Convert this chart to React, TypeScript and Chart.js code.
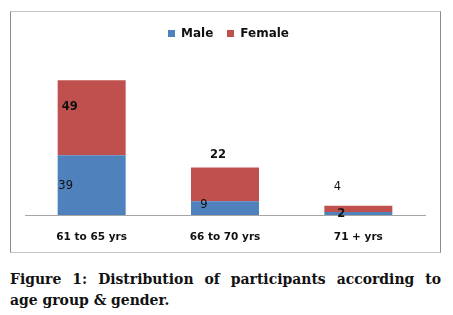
import React, { useEffect, useRef } from "react";
import { Chart, registerables } from "chart.js";

Chart.register(...registerables);

// ---- data ----
const categories = ["61 to 65 yrs", "66 to 70 yrs", "71 + yrs"];
const seriesNames = ["Male", "Female"];
const maleValues = [39, 9, 2];
const femaleValues = [49, 22, 4];
const seriesColors = ["#4F81BD", "#C0504D"];
const captionLine1 = "Figure 1: Distribution of participants according to";
const captionLine2 = "age group & gender.";

// label placement (offsets from each segment's centre) and weight, per series/category
const labelOffsets = [
  [[-26, 0.5, false], [-21, -3.5, false], [-17, 0.5, true]],
  [[-22, -10.5, true], [-7, -29, true], [-21, -21.5, false]],
];

const FONT = '"DejaVu Sans", Verdana, sans-serif';

const dataLabelPlugin = {
  id: "segLabels",
  afterDatasetsDraw(chart: any) {
    const ctx = chart.ctx;
    ctx.save();
    ctx.textAlign = "center";
    ctx.textBaseline = "middle";
    ctx.fillStyle = "#111";
    chart.data.datasets.forEach((ds: any, di: number) => {
      const meta = chart.getDatasetMeta(di);
      meta.data.forEach((el: any, i: number) => {
        const { x, y, base } = el.getProps(["x", "y", "base"], true);
        const [dx, dy, bold] = labelOffsets[di][i] as [number, number, boolean];
        ctx.font = `${bold ? "bold " : ""}11.5px ${FONT}`;
        ctx.fillText(String(ds.data[i]), x + dx, (y + base) / 2 + dy);
      });
    });
    ctx.restore();
  },
};

const legendPlugin = {
  id: "topLegend",
  afterDraw(chart: any) {
    const ctx = chart.ctx;
    ctx.save();
    ctx.font = `bold 12px ${FONT}`;
    ctx.textBaseline = "middle";
    ctx.textAlign = "left";
    const box = 7;
    const gap = 6;
    const itemGap = 14;
    const items = chart.data.datasets.map((ds: any) => ({
      text: ds.label,
      color: ds.backgroundColor,
      w: ctx.measureText(ds.label).width,
    }));
    let total = 0;
    items.forEach((it: any, i: number) => {
      total += box + gap + it.w + (i > 0 ? itemGap : 0);
    });
    let x = chart.width / 2 + 3 - total / 2;
    const cy = 21.5;
    items.forEach((it: any) => {
      ctx.fillStyle = it.color;
      ctx.fillRect(Math.round(x), Math.round(cy - box / 2), box, box);
      ctx.fillStyle = "#111";
      ctx.fillText(it.text, x + box + gap, cy + 0.5);
      x += box + gap + it.w + itemGap;
    });
    ctx.restore();
  },
};

export default function App() {
  const ref = useRef<HTMLCanvasElement | null>(null);

  useEffect(() => {
    if (!ref.current) return;
    const chart = new Chart(ref.current, {
      type: "bar",
      data: {
        labels: categories,
        datasets: [
          { label: seriesNames[0], data: maleValues, backgroundColor: seriesColors[0] },
          { label: seriesNames[1], data: femaleValues, backgroundColor: seriesColors[1] },
        ],
      },
      options: {
        responsive: false,
        animation: false,
        devicePixelRatio: 1,
        layout: { padding: { left: 14, right: 15, top: 50, bottom: 0 } },
        datasets: { bar: { barPercentage: 0.51, categoryPercentage: 1, borderWidth: 0 } },
        plugins: { legend: { display: false }, tooltip: { enabled: false } },
        scales: {
          x: {
            stacked: true,
            grid: { display: false, drawTicks: false },
            border: { display: true, color: "#a6a6a6", width: 1 },
            ticks: {
              color: "#111",
              padding: 16,
              font: { family: FONT, size: 10.5, weight: "bold" },
            },
            afterFit: (s: any) => {
              s.height = 37;
            },
          },
          y: { stacked: true, display: false, min: 0, max: 100 },
        },
      } as any,
      plugins: [dataLabelPlugin, legendPlugin],
    });
    return () => chart.destroy();
  }, []);

  return (
    <div style={{ position: "relative", width: 453, height: 315 }}>
      <div
        style={{
          position: "absolute",
          left: 2,
          top: 3,
          width: 431,
          height: 242,
          boxSizing: "border-box",
          borderTop: "1px solid #c4c4c4",
          borderBottom: "1px solid #c4c4c4",
          borderLeft: "1px solid #8c8c8c",
          borderRight: "1px solid #8c8c8c",
          background: "#fff",
        }}
      >
        <canvas ref={ref} width={429} height={240} style={{ display: "block", width: 429, height: 240 }} />
      </div>
      <div
        style={{
          position: "absolute",
          left: 2,
          top: 260,
          width: 431,
          fontFamily: '"DejaVu Serif Condensed", "DejaVu Serif", serif',
          fontStretch: "condensed",
          fontWeight: "bold",
          fontSize: 15.5,
          lineHeight: "21px",
          color: "#111",
        }}
      >
        <div style={{ whiteSpace: "nowrap", textAlign: "justify", textAlignLast: "justify" as any }}>{captionLine1}</div>
        <div style={{ whiteSpace: "nowrap" }}>{captionLine2}</div>
      </div>
    </div>
  );
}
